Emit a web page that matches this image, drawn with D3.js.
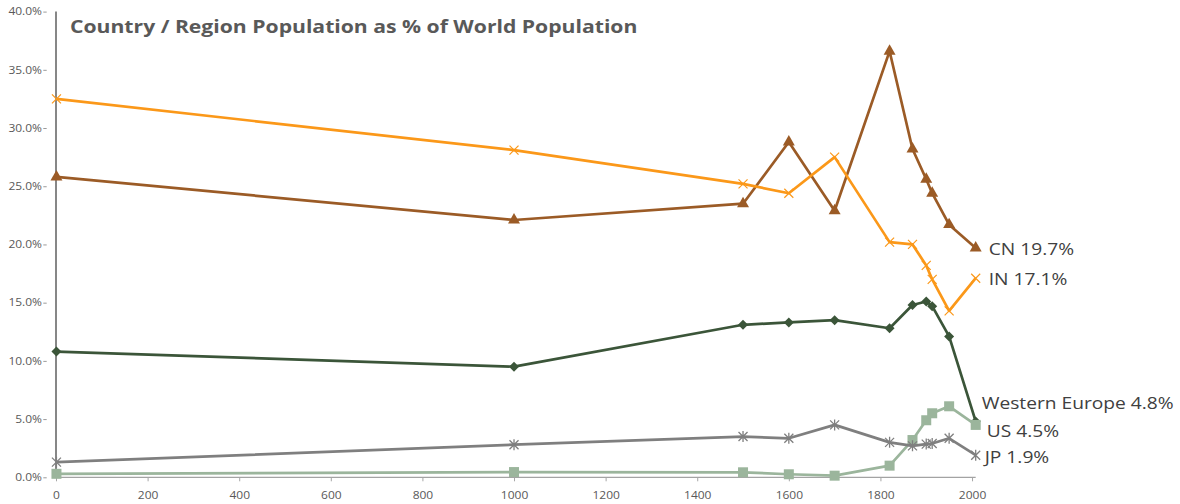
<!DOCTYPE html>
<html>
<head>
<meta charset="utf-8">
<script src="https://cdn.jsdelivr.net/npm/d3@7"></script>
<style>
  html, body { margin: 0; padding: 0; background: #ffffff; }
  svg { display: block; }
  .tick text { font-family: "Open Sans", sans-serif; font-size: 10px; fill: #595959; }
</style>
</head>
<body>
<svg id="chart" width="1180" height="504"></svg>
<script>
// Years of the population estimates
const years = [1, 1000, 1500, 1600, 1700, 1820, 1870, 1900, 1913, 1950, 2008];

// Share of world population (%) for each country / region
const chinaShare   = [25.8, 22.1, 23.5, 28.8, 22.9, 36.6, 28.2, 25.6, 24.4, 21.7, 19.7];
const indiaShare   = [32.5, 28.1, 25.2, 24.4, 27.5, 20.2, 20.0, 18.2, 17.0, 14.3, 17.1];
const westEuShare  = [10.8, 9.5, 13.1, 13.3, 13.5, 12.8, 14.8, 15.1, 14.7, 12.1, 4.8];
const usShare      = [0.3, 0.45, 0.43, 0.26, 0.14, 1.0, 3.2, 4.9, 5.5, 6.1, 4.5];
const japanShare   = [1.3, 2.8, 3.5, 3.35, 4.5, 3.0, 2.7, 2.85, 2.9, 3.35, 1.9];

const seriesNames = ["CN", "IN", "Western Europe", "US", "JP"];

// Axis tick values
const xTickValues = [0, 200, 400, 600, 800, 1000, 1200, 1400, 1600, 1800, 2000];
const yTickValues = [0, 5, 10, 15, 20, 25, 30, 35, 40];

const titleText = "Country / Region Population as % of World Population";

// Text in this chart is drawn slightly widened
const widen = 1.2;

// ---- styling per series ----
const styles = {
  "CN":             { color: "#9b5b26", symbol: "triangle", labelDx: 13, labelDy: 1 },
  "IN":             { color: "#fb9819", symbol: "cross",    labelDx: 13, labelDy: 1 },
  "Western Europe": { color: "#3b5539", symbol: "diamond",  labelDx: 6,  labelDy: -18 },
  "US":             { color: "#9bb59c", symbol: "square",   labelDx: 11, labelDy: 6 },
  "JP":             { color: "#7f7f7f", symbol: "asterisk", labelDx: 9,  labelDy: 2 }
};

const seriesValues = [chinaShare, indiaShare, westEuShare, usShare, japanShare];
const series = seriesNames.map((name, i) => ({
  name,
  points: years.map((yr, j) => ({ year: yr, value: seriesValues[i][j] }))
}));

const svg = d3.select("#chart");

const x = d3.scaleLinear().domain([0, 2008]).range([56, 975.7]);
const y = d3.scaleLinear().domain([0, 40]).range([477.3, 11.6]);

// ---- axes ----
const yAxis = d3.axisLeft(y)
  .tickValues(yTickValues)
  .tickSize(0)
  .tickFormat(d => d.toFixed(1) + "%");

const gy = svg.append("g").attr("transform", "translate(56,0)").call(yAxis);
gy.select(".domain").attr("stroke", "#878787").attr("stroke-width", 2)
  .attr("d", `M0,${y(40)}V${y(0)}`);
// short tick dashes sitting just right of each label
gy.selectAll(".tick line")
  .attr("x1", -12.7).attr("x2", -9.3)
  .attr("stroke", "#9a9a9a").attr("stroke-width", 1);
gy.selectAll(".tick text")
  .attr("x", -14 / widen)
  .attr("transform", `scale(${widen},1)`);

const xAxis = d3.axisBottom(x)
  .tickValues(xTickValues)
  .tickSize(4)
  .tickPadding(11)
  .tickFormat(d3.format("d"));

const gx = svg.append("g").attr("transform", `translate(0,${y(0)})`).call(xAxis);
gx.select(".domain").attr("stroke", "#8c8c8c").attr("stroke-width", 1)
  .attr("d", `M${x(0)},0H${x(2008)}`);
gx.selectAll(".tick line").attr("stroke", "#a6a6a6");
gx.selectAll(".tick text").attr("transform", `scale(${widen},1)`);

// ---- title ----
svg.append("text")
  .attr("transform", `translate(70,33.3) scale(1.195,1)`)
  .attr("font-family", "'Open Sans', sans-serif")
  .attr("font-weight", "bold")
  .attr("font-size", 17.7)
  .attr("fill", "#595959")
  .text(titleText);

// ---- marker drawing ----
function drawMarker(g, kind, color) {
  if (kind === "triangle") {
    g.append("path").attr("d", d3.symbol(d3.symbolTriangle, 62)()).attr("fill", color);
  } else if (kind === "diamond") {
    g.append("path").attr("d", "M0,-5L5,0L0,5L-5,0Z").attr("fill", color);
  } else if (kind === "square") {
    g.append("rect").attr("x", -5).attr("y", -5).attr("width", 10).attr("height", 10).attr("fill", color);
  } else if (kind === "cross") {
    g.append("path").attr("d", "M-4.5,-4.5L4.5,4.5M-4.5,4.5L4.5,-4.5")
      .attr("stroke", color).attr("stroke-width", 1.2).attr("fill", "none");
  } else if (kind === "asterisk") {
    g.append("path").attr("d", "M-4.5,-4.5L4.5,4.5M-4.5,4.5L4.5,-4.5M0,-5.5L0,5.5")
      .attr("stroke", color).attr("stroke-width", 1.3).attr("fill", "none");
  }
}

const line = d3.line().x(d => x(d.year)).y(d => y(d.value));

series.forEach(s => {
  const st = styles[s.name];
  const g = svg.append("g");
  g.append("path")
    .datum(s.points)
    .attr("d", line)
    .attr("fill", "none")
    .attr("stroke", st.color)
    .attr("stroke-width", 2.7)
    .attr("stroke-linejoin", "round");
  s.points.forEach(p => {
    const m = g.append("g").attr("transform", `translate(${x(p.year)},${y(p.value)})`);
    drawMarker(m, st.symbol, st.color);
  });
});

// ---- end labels ----
series.forEach(s => {
  const st = styles[s.name];
  const last = s.points[s.points.length - 1];
  svg.append("text")
    .attr("transform", `translate(${x(last.year) + st.labelDx},${y(last.value) + st.labelDy}) scale(${widen},1)`)
    .attr("dy", "0.35em")
    .attr("font-family", "'Open Sans', sans-serif")
    .attr("font-size", 16)
    .attr("fill", "#404040")
    .text(`${s.name} ${last.value.toFixed(1)}%`);
});
</script>
</body>
</html>
